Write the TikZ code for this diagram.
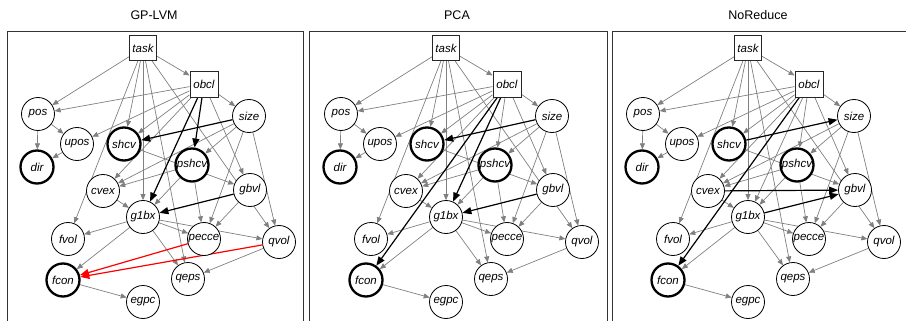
\documentclass[tikz,border=0pt]{standalone}
\usepackage{fontspec}
\setmainfont{Liberation Sans}
\usetikzlibrary{arrows.meta,backgrounds}
\tikzset{
 vnode/.style={circle,draw=black,fill=white,minimum size=33pt,inner sep=0pt,font=\fontsize{11.5}{13}\selectfont\itshape,line width=0.8pt},
 thk/.style={vnode,line width=2.3pt},
 bnode/.style={rectangle,draw=black!85,fill=white,minimum width=27pt,minimum height=25pt,inner sep=0pt,font=\fontsize{11.5}{13}\selectfont\itshape,line width=0.9pt},
 ge/.style={draw=black!50,line width=0.7pt,-{Triangle[length=6pt,width=5pt]}},
 be/.style={draw=black,line width=1.2pt,-{Triangle[length=9pt,width=7pt]}},
 re/.style={draw=red,line width=1.2pt,-{Triangle[length=9pt,width=7pt]}},
 panelframe/.style={draw=black!80,line width=0.9pt},
 ttl/.style={font=\fontsize{12.5}{15}\selectfont}
}
\newcommand\mkpanel[2]{%
 \begin{scope}[xshift=#1pt]
 \node[bnode] (#2task) at (143,48) {task};
 \node[bnode,minimum width=28pt,minimum height=26pt] (#2obcl) at (204,84) {obcl};
 \node[vnode] (#2pos) at (38,114) {pos};
 \node[vnode] (#2size) at (249,116) {size};
 \node[vnode] (#2upos) at (77,144) {upos};
 \node[thk] (#2shcv) at (124,144) {shcv};
 \node[thk] (#2dir) at (37,167) {dir};
 \node[thk] (#2pshcv) at (192,165) {pshcv};
 \node[vnode] (#2cvex) at (103,191) {cvex};
 \node[vnode] (#2gbvl) at (250,190) {gbvl};
 \node[vnode] (#2g1bx) at (143,217) {g1bx};
 \node[vnode] (#2fvol) at (68,239) {fvol};
 \node[vnode] (#2pecce) at (204,239) {pecce};
 \node[vnode] (#2qvol) at (279,242) {qvol};
 \node[thk] (#2fcon) at (63,280) {fcon};
 \node[vnode] (#2qeps) at (188,279) {qeps};
 \node[vnode] (#2egpc) at (143,302) {egpc};
 \end{scope}
 \begin{scope}[on background layer]
 \foreach \s/\t in {task/pos,task/obcl,task/fvol,task/shcv,task/g1bx,task/qeps,task/qvol,
   obcl/pos,obcl/upos,obcl/shcv,obcl/cvex,obcl/size,obcl/gbvl,
   pos/upos,pos/dir,upos/dir,
   size/cvex,size/pshcv,size/pecce,size/qvol,
   shcv/gbvl,
   pshcv/cvex,pshcv/g1bx,pshcv/pecce,
   cvex/g1bx,gbvl/pecce,
   g1bx/fvol,g1bx/fcon,g1bx/pecce,g1bx/qvol,g1bx/qeps,
   qvol/qeps,fcon/egpc}
   \draw[ge] (#2\s) -- (#2\t);
 \end{scope}}
\begin{document}
\begin{tikzpicture}[x=1pt,y=-1pt]
\useasboundingbox (0,0) rectangle (906,321);
\clip (0,0) rectangle (906,321);
% titles
\node[ttl] (t1) at (154,15) {GP-LVM};
\node[ttl] (t2) at (457,15) {PCA};
\node[ttl] (t3) at (758,15) {NoReduce};
% frames
\draw[panelframe] (7,31) rectangle (303,345);
\draw[panelframe] (309,31) rectangle (607,345);
\draw[panelframe] (612,31) rectangle (912,345);
% panels
\mkpanel{0}{a}
\mkpanel{303}{b}
\mkpanel{605}{c}
\begin{scope}[on background layer]
% panel 1 specific
\draw[be] (aobcl) -- (apshcv);
\draw[be] (aobcl) -- (ag1bx);
\draw[be] (asize) -- (ashcv);
\draw[be] (agbvl) -- (ag1bx);
\draw[re] (apecce) -- (afcon);
\draw[re] (aqvol) -- (afcon);
% panel 2 specific
\draw[ge] (bobcl) -- (bpshcv);
\draw[be] (bsize) -- (bshcv);
\draw[be] (bobcl) -- (bg1bx);
\draw[be] (bobcl) -- (bfcon);
\draw[be] (bgbvl) -- (bg1bx);
% panel 3 specific
\draw[ge] (cobcl) -- (cpshcv);
\draw[ge] (cobcl) -- (cg1bx);
\draw[be] (cshcv) -- (csize);
\draw[be] (cobcl) -- (cfcon);
\draw[be] (ccvex) -- (cgbvl);
\draw[be] (cg1bx) -- (cgbvl);
\end{scope}
\end{tikzpicture}
\end{document}
